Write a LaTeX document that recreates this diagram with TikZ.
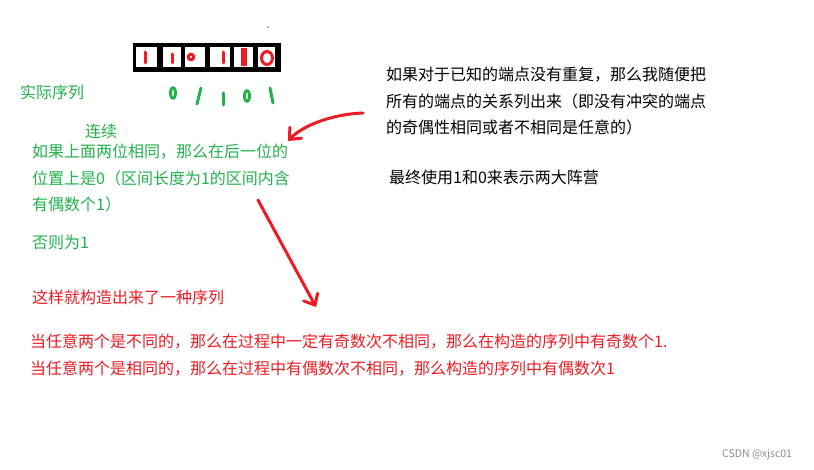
\documentclass[tikz,border=0pt]{standalone}
\usepackage{fontspec}
\setmainfont{Noto Sans CJK SC}
\usetikzlibrary{arrows.meta}
\definecolor{paintred}{RGB}{237,28,36}
\definecolor{paintgreen}{RGB}{34,177,76}
\begin{document}
\begin{tikzpicture}[x=1pt,y=-1pt]
    % text size and line distance
    \def\fs{\fontsize{16}{26.6}\selectfont}
    % style definitions
    \tikzstyle{note} = [anchor=base west, inner sep=0pt, align=left, font=\fs];
    \tikzstyle{pen} = [line width=3pt, line cap=round, line join=round];
    \tikzstyle{barb} = [-{Straight Barb[length=9pt,width=16pt,line cap=round]}];
    \useasboundingbox (0,0) rectangle (814,470);
    \fill[white] (0,0) rectangle (814,470);
    % the stray dot on top
    \fill[black!60] (268,27) circle (0.8);
    % black frame with six cells
    \fill[black] (133,43) rectangle (281,72);
    \foreach \xl/\xr in {136/157,163/181,185/205,210/230,234/253,258/275}
    {
      \fill[white] (\xl,47) rectangle (\xr,67);
    }
    % red digits 1 1 0 1 1 0
    \draw[pen,paintred] (145,52) -- (145,63);
    \draw[pen,paintred] (172,54) -- (172,63);
    \draw[pen,paintred] (191,57) circle (2.8);
    \draw[pen,paintred] (223,52) -- (223,63);
    \draw[pen,paintred,line width=6pt,line cap=butt] (244,48) -- (244,66);
    \draw[pen,paintred] (267,58) ellipse (5.5 and 6.5);
    % green digits 0 1 1 0 1
    \draw[pen,paintgreen] (173,93) ellipse (2.6 and 5.5);
    \draw[pen,paintgreen] (201,88) -- (197,104);
    \draw[pen,paintgreen] (223,93) -- (223,105);
    \draw[pen,paintgreen] (247,96) ellipse (2.6 and 5.5);
    \draw[pen,paintgreen] (270,88) -- (273,103);
    % green notes (base of a block is its last line)
    \node[note,paintgreen] (actual) at (20,99) {实际序列};
    \node[note,paintgreen] (cont) at (85,138) {连续};
    \node[note,paintgreen] (rule) at (32,211)
      {如果上面两位相同，那么在后一位的\\位置上是0（区间长度为1的区间内含\\有偶数个1）};
    \node[note,paintgreen] (other) at (32,249) {否则为1};
    % black notes
    \node[note,black] (free) at (386,134)
      {如果对于已知的端点没有重复，那么我随便把\\所有的端点的关系列出来（即没有冲突的端点\\的奇偶性相同或者不相同是任意的）};
    \node[note,black] (camp) at (389,184) {最终使用1和0来表示两大阵营};
    % red notes
    \node[note,paintred] (built) at (32,304) {这样就构造出来了一种序列};
    \node[note,paintred] (odd) at (30,348)
      {当任意两个是不同的，那么在过程中一定有奇数次不相同，那么在构造的序列中有奇数个1.};
    \node[note,paintred] (even) at (30,374)
      {当任意两个是相同的，那么在过程中有偶数次不相同，那么构造的序列中有偶数次1};
    % hand drawn arrows
    \coordinate (tailA) at (363,113);
    \coordinate (headA) at (288,141);
    \coordinate (tailB) at (258,200);
    \coordinate (headB) at (316,307);
    \draw[pen,paintred,barb] (tailA) .. controls (332,114) and (302,126) .. (headA);
    \draw[pen,paintred,barb] (tailB) -- (headB);
    % watermark
    \node[anchor=base west, inner sep=0pt, font=\fontsize{10.5}{12}\selectfont, black!45]
      (mark) at (722,457) {CSDN @xjsc01};
\end{tikzpicture}
\end{document}
